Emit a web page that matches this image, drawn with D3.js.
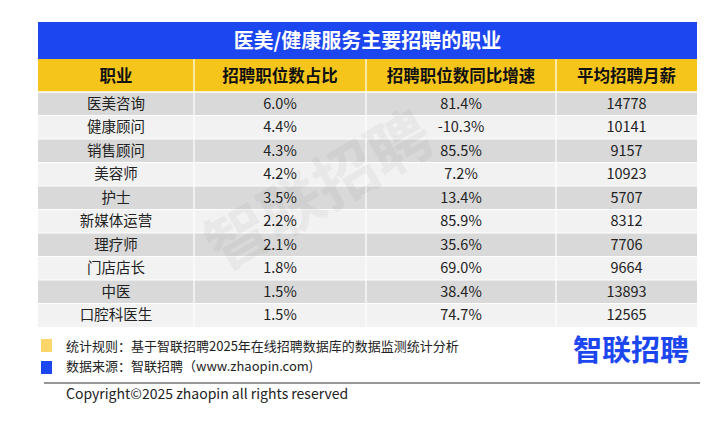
<!DOCTYPE html><html><head><meta charset="utf-8"><script src="https://d3js.org/d3.v7.min.js"></script>
<style>body{margin:0;background:#fff}</style></head><body><script>
const title="医美/健康服务主要招聘的职业";
const headers=["职业","招聘职位数占比","招聘职位数同比增速","平均招聘月薪"];
const jobs=["医美咨询","健康顾问","销售顾问","美容师","护士","新媒体运营","理疗师","门店店长","中医","口腔科医生"];
const share=["6.0%","4.4%","4.3%","4.2%","3.5%","2.2%","2.1%","1.8%","1.5%","1.5%"];
const growth=["81.4%","-10.3%","85.5%","7.2%","13.4%","85.9%","35.6%","69.0%","38.4%","74.7%"];
const salary=[14778,10141,9157,10923,5707,8312,7706,9664,13893,12565];
const F="'Noto Sans CJK SC','Noto Sans',sans-serif";
const svg=d3.select("body").append("svg").attr("width",720).attr("height",431).style("font-family",F);
const cols=[38,194,366,556,697];
const x0=cols[0],x1=cols[4];
svg.append("rect").attr("x",x0).attr("y",22).attr("width",x1-x0).attr("height",37).attr("fill","#1c46f0");
svg.append("text").attr("x",(x0+x1)/2).attr("y",41).attr("dy","0.35em").attr("text-anchor","middle").attr("fill","#fff").attr("font-size",20).attr("font-weight","bold").text(title);
svg.append("rect").attr("x",x0).attr("y",59).attr("width",x1-x0).attr("height",33).attr("fill","#f5c51c");
headers.forEach((h,i)=>{svg.append("text").attr("x",(cols[i]+cols[i+1])/2).attr("y",76).attr("dy","0.35em").attr("text-anchor","middle").attr("font-size",16.5).attr("font-weight","bold").attr("fill","#111").text(h);});
const y=d3.scaleBand().domain(d3.range(jobs.length)).range([92,327]);
const rows=jobs.map((j,i)=>[j,share[i],growth[i],String(salary[i])]);
rows.forEach((r,i)=>{
 svg.append("rect").attr("x",x0).attr("y",y(i)).attr("width",x1-x0).attr("height",y.bandwidth()).attr("fill",i%2?"#f2f2f2":"#d9d9d9");
 r.forEach((v,c)=>svg.append("text").attr("x",(cols[c]+cols[c+1])/2).attr("y",y(i)+y.bandwidth()/2).attr("dy","0.35em").attr("text-anchor","middle").attr("font-size",14.5).attr("fill","#222").text(v));
});
cols.slice(1,4).forEach(c=>svg.append("line").attr("x1",c).attr("x2",c).attr("y1",59).attr("y2",327).attr("stroke","#fff").attr("stroke-width",1.2));
d3.range(jobs.length+1).forEach(i=>svg.append("line").attr("x1",x0).attr("x2",x1).attr("y1",y(i)||92).attr("y2",y(i)||92).attr("stroke","#fff").attr("stroke-width",1));
svg.append("text").attr("x",330).attr("y",210).attr("text-anchor","middle").attr("font-size",62).attr("font-weight","bold").attr("fill","#000").attr("opacity",0.035).attr("transform","rotate(-30,330,210)").text("智联招聘");
svg.append("rect").attr("x",41).attr("y",339).attr("width",11).attr("height",13).attr("fill","#fdd66a");
svg.append("rect").attr("x",41).attr("y",361).attr("width",11).attr("height",13).attr("fill","#1c46f0");
svg.append("text").attr("x",66).attr("y",346).attr("dy","0.35em").attr("font-size",13).attr("fill","#222").text("统计规则：基于智联招聘2025年在线招聘数据库的数据监测统计分析");
svg.append("text").attr("x",66).attr("y",366).attr("dy","0.35em").attr("font-size",13).attr("fill","#222").text("数据来源：智联招聘（www.zhaopin.com)");
svg.append("text").attr("x",631).attr("y",351).attr("dy","0.35em").attr("text-anchor","middle").attr("font-size",29).attr("font-weight","bold").attr("fill","#1c46f0").text("智联招聘");
svg.append("line").attr("x1",44).attr("x2",700).attr("y1",383).attr("y2",383).attr("stroke","#333").attr("stroke-width",1);
svg.append("text").attr("x",66).attr("y",394).attr("dy","0.35em").attr("font-size",14).attr("fill","#222").text("Copyright©2025 zhaopin all rights reserved");
</script></body></html>
